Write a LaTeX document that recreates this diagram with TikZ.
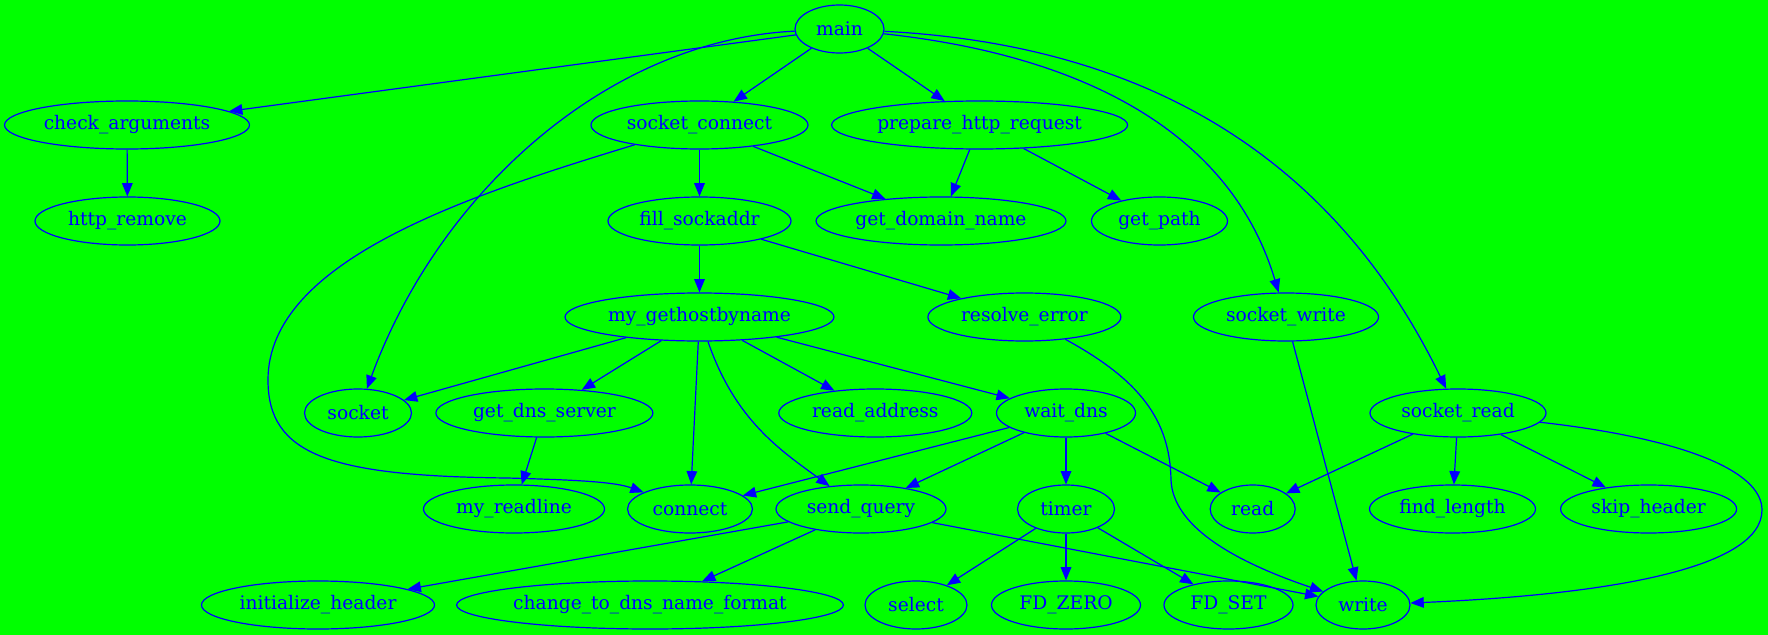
\documentclass[tikz,border=0pt]{standalone}
\usepackage{fontspec}
\setmainfont{DejaVu Serif}
\usetikzlibrary{shapes.geometric,arrows.meta}
\definecolor{bg}{HTML}{00FF00}
\definecolor{fg}{HTML}{0000FF}
\begin{document}
\begin{tikzpicture}[x=0.75pt,y=-0.75pt,
  ell/.style={ellipse,draw=fg,line width=0.9pt,inner sep=0pt,minimum height=36pt,
    text=fg,font=\fontsize{14pt}{16pt}\selectfont,minimum width=#1*0.75pt},
  edge/.style={draw=fg,line width=0.9pt,-{Triangle[length=10pt,width=8pt]}}]
\fill[bg] (0,0) rectangle (1768,635);
\useasboundingbox (0,0) rectangle (1768,635);
% nodes
\node[ell=89]  (main)  at (839.5,29) {main};
\node[ell=245] (chk)   at (127,125) {check\_arguments};
\node[ell=217] (sc)    at (699.5,125) {socket\_connect};
\node[ell=296] (phr)   at (979.6,125) {prepare\_http\_request};
\node[ell=185] (http)  at (127.5,221) {http\_remove};
\node[ell=183] (fill)  at (699.5,221) {fill\_sockaddr};
\node[ell=250] (gdn)   at (941,221) {get\_domain\_name};
\node[ell=136] (gp)    at (1159.5,221) {get\_path};
\node[ell=269] (my)    at (699.5,317) {my\_gethostbyname};
\node[ell=193] (re)    at (1024.4,317) {resolve\_error};
\node[ell=185] (sw)    at (1286,317) {socket\_write};
\node[ell=107] (sock)  at (358,413) {socket};
\node[ell=217] (gds)   at (544.4,413) {get\_dns\_server};
\node[ell=193] (ra)    at (875.3,413) {read\_address};
\node[ell=139] (wd)    at (1066,413) {wait\_dns};
\node[ell=176] (sr)    at (1458,413) {socket\_read};
\node[ell=181] (mr)    at (514,509) {my\_readline};
\node[ell=125] (conn)  at (690,509) {connect};
\node[ell=170] (sq)    at (861,509) {send\_query};
\node[ell=97]  (timer) at (1066,509) {timer};
\node[ell=85]  (read)  at (1252.7,509) {read};
\node[ell=166] (fl)    at (1452.5,509) {find\_length};
\node[ell=176] (sh)    at (1648.6,509) {skip\_header};
\node[ell=233] (ih)    at (318,605) {initialize\_header};
\node[ell=384] (cd)    at (650,605) {change\_to\_dns\_name\_format};
\node[ell=102] (sel)   at (916,605) {select};
\node[ell=149] (fz)    at (1066,605) {FD\_ZERO};
\node[ell=129] (fs)    at (1228.5,605) {FD\_SET};
\node[ell=94]  (write) at (1363,605) {write};
% edges
\draw[edge] (main) -- (chk);
\draw[edge] (main) .. controls (610,40) and (440,190) .. (sock);
\draw[edge] (main) -- (sc);
\draw[edge] (main) -- (phr);
\draw[edge] (main) .. controls (1080,55) and (1230,130) .. (sw);
\draw[edge] (main) .. controls (1150,45) and (1335,160) .. (sr);
\draw[edge] (chk) -- (http);
\draw[edge] (sc) -- (fill);
\draw[edge] (sc) -- (gdn);
\draw[edge] (sc) .. controls (470,195) and (268,260) .. (268,380)
  .. controls (268,455) and (330,476) .. (507,478)
  .. controls (580,480) and (615,482) .. (conn);
\draw[edge] (phr) -- (gdn);
\draw[edge] (phr) -- (gp);
\draw[edge] (fill) -- (my);
\draw[edge] (fill) -- (re);
\draw[edge] (my) -- (sock);
\draw[edge] (my) -- (gds);
\draw[edge] (my) -- (conn);
\draw[edge] (my) .. controls (735,420) and (780,450) .. (sq);
\draw[edge] (my) -- (ra);
\draw[edge] (my) -- (wd);
\draw[edge] (re) .. controls (1140,380) and (1170,420) .. (1171,480)
  .. controls (1173,525) and (1230,560) .. (write);
\draw[edge] (sw) -- (write);
\draw[edge] (gds) -- (mr);
\draw[edge] (wd) -- (conn);
\draw[edge] (wd) -- (sq);
\draw[edge] (wd) -- (timer);
\draw[edge] (wd) -- (read);
\draw[edge] (sr) -- (read);
\draw[edge] (sr) -- (fl);
\draw[edge] (sr) -- (sh);
\draw[edge] (sr) .. controls (1680,438) and (1762,470) .. (1762,510)
  .. controls (1762,570) and (1600,595) .. (write);
\draw[edge] (sq) -- (ih);
\draw[edge] (sq) -- (cd);
\draw[edge] (sq) -- (write);
\draw[edge] (timer) -- (sel);
\draw[edge] (timer) -- (fz);
\draw[edge] (timer) -- (fs);
\end{tikzpicture}
\end{document}
